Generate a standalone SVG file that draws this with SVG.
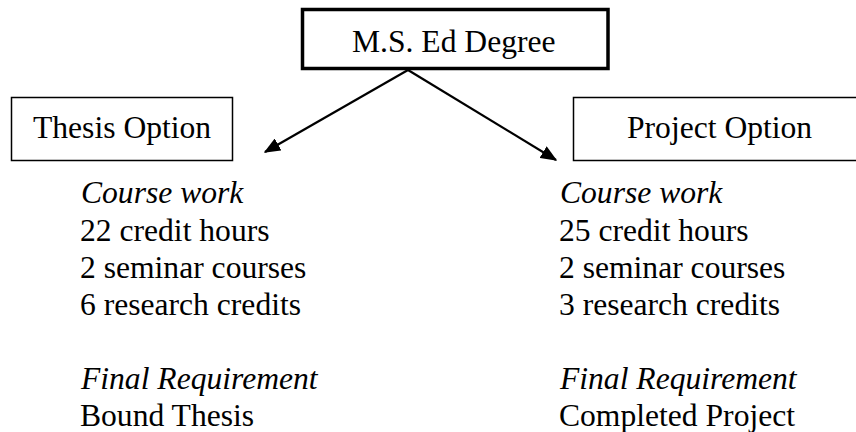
<svg xmlns="http://www.w3.org/2000/svg" width="856" height="432" viewBox="0 0 856 432">
<style>
text{font-family:"Liberation Serif","Times New Roman",serif;font-size:31.6px;fill:#000}
.it{font-style:italic}
.box{fill:#fff;stroke:#000}
.conn{stroke:#000;stroke-width:2.2;fill:none}
</style>
<defs>
<marker id="ah" viewBox="0 0 12 10" refX="11" refY="5" markerWidth="7.5" markerHeight="6.25" markerUnits="strokeWidth" orient="auto">
<path d="M0,0 L12,5 L0,10 z" fill="#000"/>
</marker>
</defs>
<rect width="856" height="432" fill="#fff"/>
<g id="degree">
<rect class="box" x="302.5" y="9.5" width="305.5" height="59" stroke-width="3.5"/>
<text x="352" y="52">M.S. Ed Degree</text>
</g>
<g id="thesis">
<rect class="box" x="11.5" y="97.5" width="221" height="63" stroke-width="1.5"/>
<text x="33" y="138">Thesis Option</text>
</g>
<g id="project">
<rect class="box" x="573.5" y="97.5" width="290" height="63" stroke-width="1.5"/>
<text x="627" y="138">Project Option</text>
</g>
<g id="thesis-details">
<text class="it" x="81" y="203">Course work</text>
<text x="80" y="241">22 credit hours</text>
<text x="80" y="278">2 seminar courses</text>
<text x="80" y="315">6 research credits</text>
<text class="it" x="81" y="389">Final Requirement</text>
<text x="80" y="426">Bound Thesis</text>
</g>
<g id="project-details">
<text class="it" x="560" y="203">Course work</text>
<text x="559" y="241">25 credit hours</text>
<text x="559" y="278">2 seminar courses</text>
<text x="559" y="315">3 research credits</text>
<text class="it" x="560" y="389">Final Requirement</text>
<text x="559" y="426">Completed Project</text>
</g>
<g id="connectors">
<line class="conn" x1="408" y1="70" x2="265" y2="152" marker-end="url(#ah)"/>
<line class="conn" x1="408" y1="70" x2="556" y2="160" marker-end="url(#ah)"/>
</g>
</svg>
